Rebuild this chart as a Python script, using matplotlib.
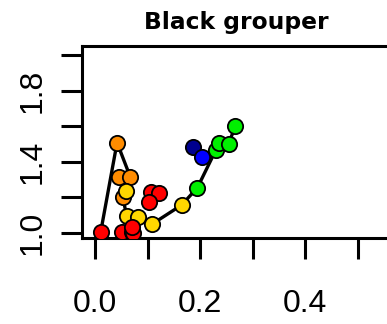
import matplotlib
matplotlib.use("Agg")
import matplotlib.pyplot as plt

# ---- data ----
title = "Black grouper"
# connected trajectory (in order)
path_x = [0.011, 0.042, 0.067, 0.046, 0.059, 0.053, 0.060, 0.081, 0.108, 0.165, 0.195, 0.230, 0.235, 0.254, 0.267]
path_y = [1.006, 1.507, 1.315, 1.315, 1.237, 1.203, 1.094, 1.090, 1.047, 1.156, 1.254, 1.466, 1.504, 1.498, 1.601]

# all points (x, y, colour group)
pt_x = [0.011, 0.042, 0.046, 0.067, 0.053, 0.059, 0.060, 0.081, 0.108, 0.165,
        0.195, 0.230, 0.235, 0.254, 0.267,
        0.051, 0.070, 0.073, 0.070, 0.106, 0.122, 0.103,
        0.186, 0.203]
pt_y = [1.006, 1.507, 1.315, 1.315, 1.203, 1.237, 1.094, 1.090, 1.047, 1.156,
        1.254, 1.466, 1.504, 1.498, 1.601,
        1.006, 1.006, 0.997, 1.030, 1.231, 1.225, 1.171,
        1.485, 1.428]
pt_group = ["red", "orange", "orange", "orange", "orange", "yellow", "yellow", "yellow", "yellow", "yellow",
            "green", "green", "green", "green", "green",
            "red", "red", "red", "red", "red", "red", "red",
            "navy", "blue"]
palette = {"red": "#FF0000", "orange": "#FF8C00", "yellow": "#FFD700",
           "green": "#00F000", "blue": "#0000FF", "navy": "#00008F"}

x_ticks = [0.0, 0.1, 0.2, 0.3, 0.4, 0.5, 0.6]
x_ticklabels = ["0.0", "", "0.2", "", "0.4", "", ""]
y_ticks = [1.0, 1.2, 1.4, 1.6, 1.8, 2.0]
y_ticklabels = ["1.0", "", "1.4", "", "1.8", ""]

# ---- figure ----
W, H = 387, 324
fig = plt.figure(figsize=(W / 100, H / 100), dpi=100)
left, right, top, bottom = 82, 423, 46, 238
ax = fig.add_axes([left / W, 1 - bottom / H, (right - left) / W, (bottom - top) / H])

ax.plot(path_x, path_y, color="black", lw=2.4, zorder=2, solid_capstyle="round")
for x, y, g in zip(pt_x, pt_y, pt_group):
    ax.plot(x, y, marker="o", ms=11, mfc=palette[g], mec="black", mew=1.3, ls="none", zorder=3)

ax.set_xlim(-0.0247, 0.624)
ax.set_ylim(0.970, 2.051)

for s in ax.spines.values():
    s.set_linewidth(2.2)

ax.set_xticks(x_ticks)
ax.set_xticklabels(x_ticklabels, family="Liberation Sans", fontsize=23)
ax.set_yticks(y_ticks)
ax.set_yticklabels(y_ticklabels, family="Liberation Sans", fontsize=23, rotation=90, va="center")
ax.tick_params(axis="both", direction="out", length=15, width=2.2, color="black")
ax.tick_params(axis="x", pad=22)
ax.tick_params(axis="y", pad=10)

fig.text(236.5 / W, 1 - 29 / H, title, ha="center", va="baseline",
         family="DejaVu Sans", fontweight="bold", fontsize=16.8)

fig.savefig("out.png", dpi=100)
